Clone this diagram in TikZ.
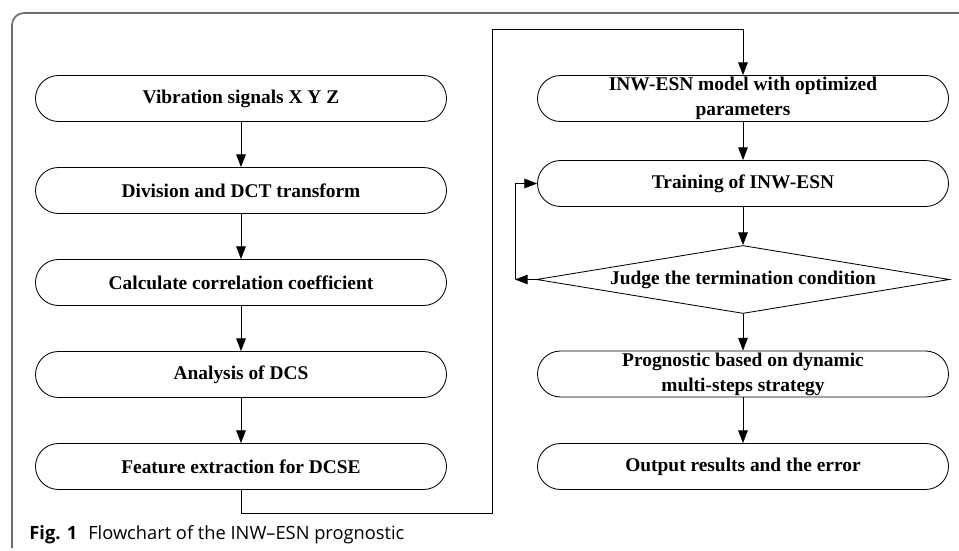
\documentclass[tikz,border=0pt]{standalone}
\usepackage{fontspec}
\setmainfont{Liberation Serif}
\newfontfamily\capfont{Open Sans}
\usetikzlibrary{arrows.meta,positioning,shapes.geometric}
\definecolor{framegray}{RGB}{110,110,110}

\begin{document}
\begin{tikzpicture}[>={Triangle[length=9pt,width=6.8pt]}, line width=0.6pt, node distance=2.3cm,
    proc/.style={draw, rectangle, rounded corners=0.575cm, minimum width=10.275cm, minimum height=1.15cm,
                 inner sep=0pt, align=center, font=\fontsize{13.8}{17.8}\selectfont\bfseries},
    judge/.style={draw, diamond, aspect=6.07, minimum width=10.325cm, minimum height=1.7cm,
                  inner sep=0pt, font=\fontsize{13.8}{17.8}\selectfont\bfseries}]
    \useasboundingbox (0,0) rectangle (23.975,-13.775);
    \clip (0,0) rectangle (23.975,-13.775);

    % Frame and caption
    \draw [framegray, line width=1.2pt, rounded corners=0.3cm] (24.5,-0.325) -- (0.3,-0.325) -- (0.3,-13.7);
    \node [anchor=base west, inner sep=0pt, font=\capfont\fontsize{13}{15}\selectfont] (cap) at (0.725,-13.475)
        {\textbf{Fig. 1}\hspace{0.6em}Flowchart of the INW–ESN prognostic};

    % Nodes {b1..b5} left column
    \node [proc] (b1) at (6.025,-2.4625) {Vibration signals X Y Z};
    \node [proc] (b2) [below of=b1] {Division and DCT transform};
    \node [proc] (b3) [below of=b2] {Calculate correlation coefficient};
    \node [proc] (b4) [below of=b3] {Analysis of DCS};
    \node [proc] (b5) [below of=b4] {Feature extraction for DCSE};

    % Nodes {r1..r4, dm} right column
    \node [proc]  (r1) [right of=b1, node distance=12.55cm]  {INW-ESN model with optimized\\parameters};
    \node [proc]  (r2) [below of=r1, node distance=2.125cm]  {Training of INW-ESN};
    \node [judge] (dm) [below of=r2, node distance=2.4cm]    {Judge the termination condition};
    \node [proc]  (r3) [below of=dm, node distance=2.3625cm] {Prognostic based on dynamic\\multi-steps strategy};
    \node [proc]  (r4) [right of=b5, node distance=12.55cm]  {Output results and the error};

    \coordinate (turn) at (12.3,-0.725);
    \coordinate (back) at (12.875,-6.9875);

    % Paths
    \path [->] (b1) edge (b2);
    \path [->] (b2) edge (b3);
    \path [->] (b3) edge (b4);
    \path [->] (b4) edge (b5);
    \draw [->] (b5.south) -- ++(0,-0.575) -| (turn) -| (r1.north);
    \path [->] (r1) edge (r2);
    \path [->] (r2) edge (dm);
    \path [->] (dm) edge (r3);
    \path [->] (r3) edge (r4);
    \draw [->] (dm.west) -- (back);
    \draw [->] (back) |- (r2.west);

\end{tikzpicture}
\end{document}
